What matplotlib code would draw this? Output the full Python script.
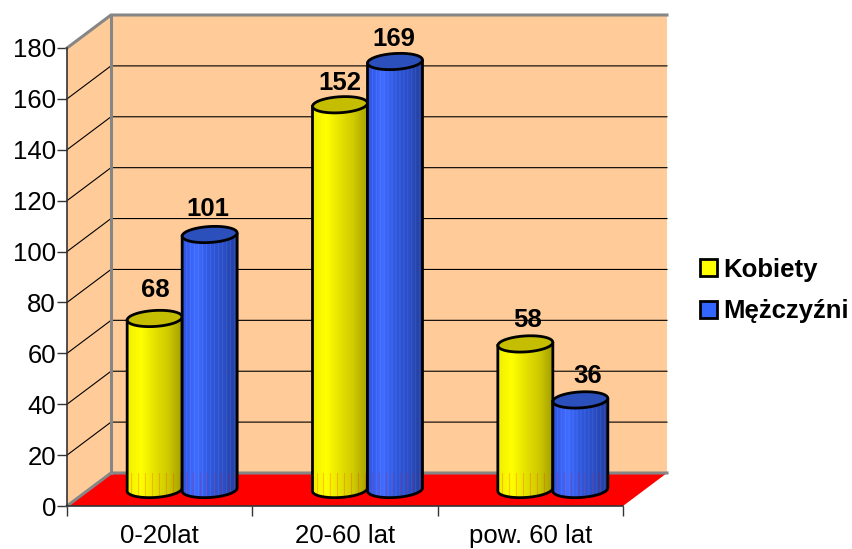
import numpy as np
import matplotlib

matplotlib.use("Agg")
import matplotlib.pyplot as plt
from matplotlib.patches import Patch, PathPatch, Polygon
from matplotlib.path import Path

categories = ["0-20lat", "20-60 lat", "pow. 60 lat"]
series_names = ["Kobiety", "Mężczyźni"]
kobiety = [68, 152, 58]
mezczyzni = [101, 169, 36]
y_ticks = [0, 20, 40, 60, 80, 100, 120, 140, 160, 180]

plt.rcParams["font.family"] = ["Liberation Sans", "DejaVu Sans"]

W, H = 852, 549
LEFT, RIGHT, TOP, BOTTOM = 67, 623, 48, 506  # front plane of the 3D box, pixels
PX = 3 / (RIGHT - LEFT)  # one pixel in data units, x
PY = 180 / (BOTTOM - TOP)  # one pixel in data units, y
DEPTH_X = 44 * PX
DEPTH_Y = 33 * PY
BAR_W = 55 * PX
FONT = 18.5

# hand placement of the value labels, pixels
k_nudge, k_lift = [1, 0, 2], [28, 22, 24]
m_nudge, m_lift = [-2, -1, 7], [26, 22, 24]


def gradient(stops, n=56, stripe=0.0):
    """One row image going through the colour stops, with faint vertical bands."""
    pos = np.linspace(0, 1, len(stops))
    t = np.linspace(0, 1, n)
    rgb = np.array([np.interp(t, pos, [s[c] for s in stops]) for c in range(3)]).T
    rgb[::4] = np.clip(rgb[::4] + stripe, 0, 1)
    return rgb[np.newaxis, :, :]


def hex_rgb(h):
    return matplotlib.colors.to_rgb(h)


YELLOW = gradient([hex_rgb(c) for c in ["#f2ee00", "#ffff00", "#e6e200", "#cfca00", "#a5a000"]])
BLUE = gradient([hex_rgb(c) for c in ["#2f55e0", "#3f6bff", "#3058dc", "#2b4ec4", "#233e9c"]], stripe=0.05)
COLOURS = [(YELLOW, "#c4bd00", "#ffff00"), (BLUE, "#2b50bc", "#3366ff")]


def ellipse_points(cx, cy, start, stop, n=40):
    t = np.linspace(start, stop, n)
    x = cx + BAR_W / 2 * np.cos(t)
    y = cy + (8 * np.sin(t) + 1.6 * np.cos(t)) * PY
    return np.column_stack([x, y])


def draw_cylinder(ax, cx, value, style, zorder):
    img, top_colour, _ = style
    base = DEPTH_Y / 2
    top_y = base + value - 2 * PY
    body = np.vstack([
        ellipse_points(cx, top_y, 0, np.pi, 2)[:1],
        ellipse_points(cx, top_y, np.pi, np.pi, 1),
        ellipse_points(cx, base, np.pi, 2 * np.pi),
    ])
    path = Path(np.vstack([body, body[:1]]))
    outline = PathPatch(path, facecolor="none", edgecolor="black", lw=2,
                        zorder=zorder + 0.2, clip_on=False)
    im = ax.imshow(img, extent=[cx - BAR_W / 2, cx + BAR_W / 2, 0, top_y + 10],
                   aspect="auto", interpolation="bilinear", zorder=zorder)
    ax.add_patch(outline)
    im.set_clip_path(path, ax.transData)
    # floor colour showing through the lower part of the cylinder
    for sx in np.arange(cx - BAR_W / 2 + 4 * PX, cx + BAR_W / 2, 7 * PX):
        line, = ax.plot([sx, sx], [-3, DEPTH_Y], color="red", lw=0.8, alpha=0.2, zorder=zorder + 0.1)
        line.set_clip_path(path, ax.transData)
    top = Polygon(ellipse_points(cx, top_y, 0, 2 * np.pi), closed=True, facecolor=top_colour,
                  edgecolor="black", lw=2, zorder=zorder + 0.3, clip_on=False)
    ax.add_patch(top)
    return top_y


fig = plt.figure(figsize=(W / 100, H / 100), dpi=100)
ax = fig.add_axes([LEFT / W, 1 - BOTTOM / H, (RIGHT - LEFT) / W, (BOTTOM - TOP) / H])

# box walls and floor
ax.add_patch(Polygon([(DEPTH_X, DEPTH_Y), (3 + DEPTH_X, DEPTH_Y), (3 + DEPTH_X, 180 + DEPTH_Y), (DEPTH_X, 180 + DEPTH_Y)],
                     facecolor="#ffcc99", edgecolor="none", clip_on=False, zorder=1))
ax.add_patch(Polygon([(0, 0), (DEPTH_X, DEPTH_Y), (DEPTH_X, 180 + DEPTH_Y), (0, 180)],
                     facecolor="#ffcc99", edgecolor="none", clip_on=False, zorder=1))
ax.add_patch(Polygon([(0, 0), (3, 0), (3 + DEPTH_X, DEPTH_Y), (DEPTH_X, DEPTH_Y)],
                     facecolor="#ff0000", edgecolor="none", clip_on=False, zorder=1))

for v in y_ticks[1:-1]:
    ax.plot([0, DEPTH_X, 3 + DEPTH_X], [v, v + DEPTH_Y, v + DEPTH_Y], color="black", lw=0.8, clip_on=False, zorder=2)

wall_edge = dict(color="#868686", lw=2.2, clip_on=False, zorder=3, solid_capstyle="projecting")
ax.plot([0, DEPTH_X, 3 + DEPTH_X], [180, 180 + DEPTH_Y, 180 + DEPTH_Y], **wall_edge)
ax.plot([DEPTH_X, DEPTH_X], [DEPTH_Y, 180 + DEPTH_Y], **wall_edge)
ax.plot([0, DEPTH_X, 3 + DEPTH_X], [0, DEPTH_Y, DEPTH_Y], **wall_edge)

# cylinders
for i in range(len(categories)):
    cx = i + 0.5 + DEPTH_X / 2 + 0.5 * PX
    top_k = draw_cylinder(ax, cx - BAR_W / 2, kobiety[i], COLOURS[0], 4 + i)
    top_m = draw_cylinder(ax, cx + BAR_W / 2, mezczyzni[i], COLOURS[1], 4.5 + i)
    ax.text(cx - BAR_W / 2 + k_nudge[i] * PX, top_k + k_lift[i] * PY, str(kobiety[i]), ha="center", va="center",
            fontsize=FONT, fontweight="bold", zorder=10)
    ax.text(cx + BAR_W / 2 + m_nudge[i] * PX, top_m + m_lift[i] * PY, str(mezczyzni[i]), ha="center", va="center",
            fontsize=FONT, fontweight="bold", zorder=10)

ax.set_xlim(0, 3)
ax.set_ylim(0, 180)
ax.set_yticks(y_ticks)
ax.set_xticks([0, 1, 2, 3])
ax.set_xticklabels([])
ax.set_xticks([0.5, 1.5, 2.5], minor=True)
ax.set_xticklabels(categories, minor=True, fontsize=FONT)
ax.tick_params(axis="x", which="minor", length=0, pad=13)
ax.tick_params(axis="x", which="major", length=7, width=1, color="#333333")
ax.tick_params(axis="y", length=7, width=1, color="#333333", labelsize=FONT, pad=1)
for side in ["top", "right"]:
    ax.spines[side].set_visible(False)
for side in ["left", "bottom"]:
    ax.spines[side].set_color("#333333")
    ax.spines[side].set_linewidth(1.2)
    ax.spines[side].set_zorder(3.5)

handles = [Patch(facecolor=COLOURS[k][2], edgecolor="black", lw=2, label=series_names[k]) for k in range(2)]
leg = fig.legend(handles=handles, loc="center left", bbox_to_anchor=(700 / W, 1 - 290.5 / H), frameon=False,
                 handlelength=0.66, handleheight=0.66, handletextpad=0.26, labelspacing=0.68,
                 borderpad=0, borderaxespad=0, prop={"size": FONT, "weight": "bold"})

fig.savefig("out.png", dpi=100)
